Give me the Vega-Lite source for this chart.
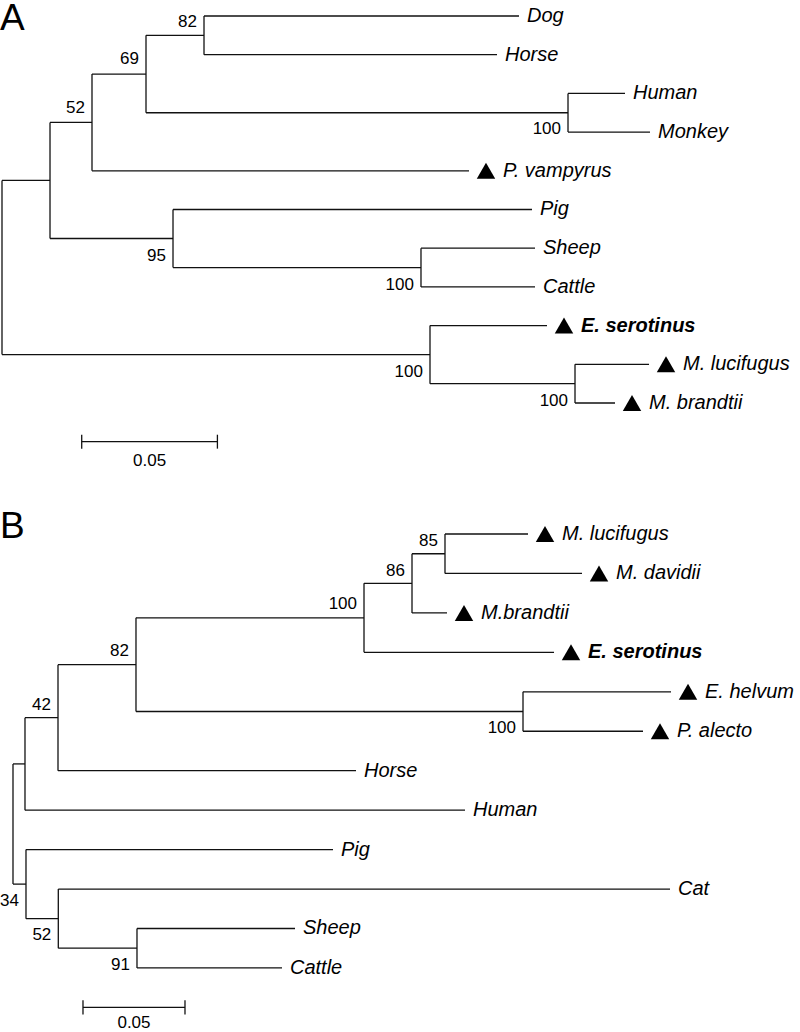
{
  "$schema": "https://vega.github.io/schema/vega-lite/v6.json",
  "padding": 0,
  "spacing": 0,
  "bounds": "flush",
  "background": "white",
  "config": {"view": {"stroke": null}, "text": {"font": "Liberation Sans", "color": "#000"}, "concat": {"spacing": 0}},
  "datasets": {
    "segA": [
      {"x": 0, "x2": 0, "y": 5.25, "y2": 9.75},
      {"x": 0, "x2": 0.01769, "y": 5.25, "y2": 5.25},
      {"x": 0, "x2": 0.1577, "y": 9.75, "y2": 9.75},
      {"x": 0.01769, "x2": 0.01769, "y": 3.75, "y2": 6.75},
      {"x": 0.01769, "x2": 0.03316, "y": 3.75, "y2": 3.75},
      {"x": 0.01769, "x2": 0.06301, "y": 6.75, "y2": 6.75},
      {"x": 0.03316, "x2": 0.03316, "y": 2.5, "y2": 5},
      {"x": 0.03316, "x2": 0.05306, "y": 2.5, "y2": 2.5},
      {"x": 0.03316, "x2": 0.17207, "y": 5, "y2": 5},
      {"x": 0.05306, "x2": 0.05306, "y": 1.5, "y2": 3.5},
      {"x": 0.05306, "x2": 0.07443, "y": 1.5, "y2": 1.5},
      {"x": 0.05306, "x2": 0.20855, "y": 3.5, "y2": 3.5},
      {"x": 0.07443, "x2": 0.07443, "y": 1, "y2": 2},
      {"x": 0.07443, "x2": 0.19049, "y": 1, "y2": 1},
      {"x": 0.07443, "x2": 0.18239, "y": 2, "y2": 2},
      {"x": 0.20855, "x2": 0.20855, "y": 3, "y2": 4},
      {"x": 0.20855, "x2": 0.22955, "y": 3, "y2": 3},
      {"x": 0.20855, "x2": 0.23876, "y": 4, "y2": 4},
      {"x": 0.06301, "x2": 0.06301, "y": 6, "y2": 7.5},
      {"x": 0.06301, "x2": 0.19528, "y": 6, "y2": 6},
      {"x": 0.06301, "x2": 0.15438, "y": 7.5, "y2": 7.5},
      {"x": 0.15438, "x2": 0.15438, "y": 7, "y2": 8},
      {"x": 0.15438, "x2": 0.19639, "y": 7, "y2": 7},
      {"x": 0.15438, "x2": 0.19639, "y": 8, "y2": 8},
      {"x": 0.1577, "x2": 0.1577, "y": 9, "y2": 10.5},
      {"x": 0.1577, "x2": 0.20081, "y": 9, "y2": 9},
      {"x": 0.1577, "x2": 0.21113, "y": 10.5, "y2": 10.5},
      {"x": 0.21113, "x2": 0.21113, "y": 10, "y2": 11},
      {"x": 0.21113, "x2": 0.2384, "y": 10, "y2": 10},
      {"x": 0.21113, "x2": 0.22587, "y": 11, "y2": 11},
      {"x": 0.02937, "x2": 0.07937, "y": 12, "y2": 12},
      {"x": 0.02937, "x2": 0.02937, "y": 11.82, "y2": 12.18},
      {"x": 0.07937, "x2": 0.07937, "y": 11.82, "y2": 12.18}
    ],
    "leafA": [
      {"name": "Dog", "x": 0.19049, "y": 1, "kind": "plain"},
      {"name": "Horse", "x": 0.18239, "y": 2, "kind": "plain"},
      {"name": "Human", "x": 0.22955, "y": 3, "kind": "plain"},
      {"name": "Monkey", "x": 0.23876, "y": 4, "kind": "plain"},
      {"name": "P. vampyrus", "x": 0.17207, "y": 5, "kind": "bat"},
      {"name": "Pig", "x": 0.19528, "y": 6, "kind": "plain"},
      {"name": "Sheep", "x": 0.19639, "y": 7, "kind": "plain"},
      {"name": "Cattle", "x": 0.19639, "y": 8, "kind": "plain"},
      {"name": "E. serotinus", "x": 0.20081, "y": 9, "kind": "batbold"},
      {"name": "M. lucifugus", "x": 0.2384, "y": 10, "kind": "bat"},
      {"name": "M. brandtii", "x": 0.22587, "y": 11, "kind": "bat"}
    ],
    "bootA": [
      {"label": "82", "x": 0.07443, "y": 1.155},
      {"label": "69", "x": 0.05306, "y": 2.124},
      {"label": "52", "x": 0.03316, "y": 3.377},
      {"label": "100", "x": 0.20855, "y": 3.92},
      {"label": "95", "x": 0.06301, "y": 7.19},
      {"label": "100", "x": 0.15438, "y": 7.94},
      {"label": "100", "x": 0.1577, "y": 10.21},
      {"label": "100", "x": 0.21113, "y": 10.95}
    ],
    "miscA": [
      {"label": "0.05", "x": 0.05437, "y": 12.5, "kind": "scale"},
      {"label": "A", "x": -0.000737, "y": 1.078, "kind": "letter"}
    ],
    "segB": [
      {"x": 0, "x2": 0, "y": 6.828, "y2": 9.875},
      {"x": 0, "x2": 0.00588, "y": 6.828, "y2": 6.828},
      {"x": 0, "x2": 0.00637, "y": 9.875, "y2": 9.875},
      {"x": 0.00588, "x2": 0.00588, "y": 5.656, "y2": 8},
      {"x": 0.00588, "x2": 0.02206, "y": 5.656, "y2": 5.656},
      {"x": 0.00588, "x2": 0.22157, "y": 8, "y2": 8},
      {"x": 0.02206, "x2": 0.02206, "y": 4.3125, "y2": 7},
      {"x": 0.02206, "x2": 0.06029, "y": 4.3125, "y2": 4.3125},
      {"x": 0.02206, "x2": 0.16814, "y": 7, "y2": 7},
      {"x": 0.06029, "x2": 0.06029, "y": 3.125, "y2": 5.5},
      {"x": 0.06029, "x2": 0.17206, "y": 3.125, "y2": 3.125},
      {"x": 0.06029, "x2": 0.25, "y": 5.5, "y2": 5.5},
      {"x": 0.17206, "x2": 0.17206, "y": 2.25, "y2": 4},
      {"x": 0.17206, "x2": 0.19559, "y": 2.25, "y2": 2.25},
      {"x": 0.17206, "x2": 0.2652, "y": 4, "y2": 4},
      {"x": 0.19559, "x2": 0.19559, "y": 1.5, "y2": 3},
      {"x": 0.19559, "x2": 0.21176, "y": 1.5, "y2": 1.5},
      {"x": 0.19559, "x2": 0.21275, "y": 3, "y2": 3},
      {"x": 0.21176, "x2": 0.21176, "y": 1, "y2": 2},
      {"x": 0.21176, "x2": 0.25245, "y": 1, "y2": 1},
      {"x": 0.21176, "x2": 0.27892, "y": 2, "y2": 2},
      {"x": 0.25, "x2": 0.25, "y": 5, "y2": 6},
      {"x": 0.25, "x2": 0.32255, "y": 5, "y2": 5},
      {"x": 0.25, "x2": 0.30882, "y": 6, "y2": 6},
      {"x": 0.00637, "x2": 0.00637, "y": 9, "y2": 10.75},
      {"x": 0.00637, "x2": 0.15686, "y": 9, "y2": 9},
      {"x": 0.00637, "x2": 0.02221, "y": 10.75, "y2": 10.75},
      {"x": 0.02221, "x2": 0.02221, "y": 10, "y2": 11.5},
      {"x": 0.02221, "x2": 0.32206, "y": 10, "y2": 10},
      {"x": 0.02221, "x2": 0.06078, "y": 11.5, "y2": 11.5},
      {"x": 0.06078, "x2": 0.06078, "y": 11, "y2": 12},
      {"x": 0.06078, "x2": 0.13824, "y": 11, "y2": 11},
      {"x": 0.06078, "x2": 0.13186, "y": 12, "y2": 12},
      {"x": 0.03431, "x2": 0.08431, "y": 13, "y2": 13},
      {"x": 0.03431, "x2": 0.03431, "y": 12.82, "y2": 13.18},
      {"x": 0.08431, "x2": 0.08431, "y": 12.82, "y2": 13.18}
    ],
    "leafB": [
      {"name": "M. lucifugus", "x": 0.25245, "y": 1, "kind": "bat"},
      {"name": "M. davidii", "x": 0.27892, "y": 2, "kind": "bat"},
      {"name": "M.brandtii", "x": 0.21275, "y": 3, "kind": "bat"},
      {"name": "E. serotinus", "x": 0.2652, "y": 4, "kind": "batbold"},
      {"name": "E. helvum", "x": 0.32255, "y": 5, "kind": "bat"},
      {"name": "P. alecto", "x": 0.30882, "y": 6, "kind": "bat"},
      {"name": "Horse", "x": 0.16814, "y": 7, "kind": "plain"},
      {"name": "Human", "x": 0.22157, "y": 8, "kind": "plain"},
      {"name": "Pig", "x": 0.15686, "y": 9, "kind": "plain"},
      {"name": "Cat", "x": 0.32206, "y": 10, "kind": "plain"},
      {"name": "Sheep", "x": 0.13824, "y": 11, "kind": "plain"},
      {"name": "Cattle", "x": 0.13186, "y": 12, "kind": "plain"}
    ],
    "bootB": [
      {"label": "85", "x": 0.21176, "y": 1.177},
      {"label": "86", "x": 0.19559, "y": 1.938},
      {"label": "100", "x": 0.17206, "y": 2.774},
      {"label": "82", "x": 0.06029, "y": 3.966},
      {"label": "42", "x": 0.02206, "y": 5.322},
      {"label": "100", "x": 0.25, "y": 5.93},
      {"label": "34", "x": 0.00637, "y": 10.303},
      {"label": "52", "x": 0.02221, "y": 11.165},
      {"label": "91", "x": 0.06078, "y": 11.925}
    ],
    "miscB": [
      {"label": "0.05", "x": 0.05931, "y": 13.4, "kind": "scale"},
      {"label": "B", "x": -0.00637, "y": 0.835, "kind": "letter"}
    ]
  },
  "vconcat": [
    {
      "width": 800,
      "height": 480,
      "encoding": {
        "x": {"field": "x", "type": "quantitative", "scale": {"domain": [-0.000737, 0.29403], "nice": false, "zero": false}, "axis": null},
        "y": {"field": "y", "type": "quantitative", "scale": {"domain": [0.6124, 13.016], "reverse": true, "nice": false, "zero": false}, "axis": null}
      },
      "layer": [
        {"data": {"name": "segA"}, "mark": {"type": "rule", "color": "#111", "strokeWidth": 1.3}, "encoding": {"x2": {"field": "x2"}, "y2": {"field": "y2"}}},
        {"data": {"name": "leafA"}, "transform": [{"filter": "datum.kind != 'plain'"}], "mark": {"type": "point", "shape": "triangle-up", "filled": true, "color": "#000", "opacity": 1, "size": 340, "xOffset": 17}},
        {"data": {"name": "leafA"}, "transform": [{"filter": "datum.kind == 'plain'"}], "mark": {"type": "text", "align": "left", "baseline": "middle", "dx": 8, "fontSize": 20, "fontStyle": "italic"}, "encoding": {"text": {"field": "name"}}},
        {"data": {"name": "leafA"}, "transform": [{"filter": "datum.kind == 'bat'"}], "mark": {"type": "text", "align": "left", "baseline": "middle", "dx": 34, "fontSize": 20, "fontStyle": "italic"}, "encoding": {"text": {"field": "name"}}},
        {"data": {"name": "leafA"}, "transform": [{"filter": "datum.kind == 'batbold'"}], "mark": {"type": "text", "align": "left", "baseline": "middle", "dx": 34, "fontSize": 20, "fontStyle": "italic", "fontWeight": "bold"}, "encoding": {"text": {"field": "name"}}},
        {"data": {"name": "bootA"}, "mark": {"type": "text", "align": "right", "baseline": "middle", "dx": -7, "fontSize": 17}, "encoding": {"text": {"field": "label"}}},
        {"data": {"name": "miscA"}, "transform": [{"filter": "datum.kind == 'scale'"}], "mark": {"type": "text", "align": "center", "baseline": "middle", "fontSize": 17}, "encoding": {"text": {"field": "label"}}},
        {"data": {"name": "miscA"}, "transform": [{"filter": "datum.kind == 'letter'"}], "mark": {"type": "text", "align": "left", "baseline": "middle", "fontSize": 37}, "encoding": {"text": {"field": "label"}}}
      ]
    },
    {
      "width": 800,
      "height": 552,
      "encoding": {
        "x": {"field": "x", "type": "quantitative", "scale": {"domain": [-0.00637, 0.38578], "nice": false, "zero": false}, "axis": null},
        "y": {"field": "y", "type": "quantitative", "scale": {"domain": [-0.3435, 13.649], "reverse": true, "nice": false, "zero": false}, "axis": null}
      },
      "layer": [
        {"data": {"name": "segB"}, "mark": {"type": "rule", "color": "#111", "strokeWidth": 1.3}, "encoding": {"x2": {"field": "x2"}, "y2": {"field": "y2"}}},
        {"data": {"name": "leafB"}, "transform": [{"filter": "datum.kind != 'plain'"}], "mark": {"type": "point", "shape": "triangle-up", "filled": true, "color": "#000", "opacity": 1, "size": 340, "xOffset": 17}},
        {"data": {"name": "leafB"}, "transform": [{"filter": "datum.kind == 'plain'"}], "mark": {"type": "text", "align": "left", "baseline": "middle", "dx": 8, "fontSize": 20, "fontStyle": "italic"}, "encoding": {"text": {"field": "name"}}},
        {"data": {"name": "leafB"}, "transform": [{"filter": "datum.kind == 'bat'"}], "mark": {"type": "text", "align": "left", "baseline": "middle", "dx": 34, "fontSize": 20, "fontStyle": "italic"}, "encoding": {"text": {"field": "name"}}},
        {"data": {"name": "leafB"}, "transform": [{"filter": "datum.kind == 'batbold'"}], "mark": {"type": "text", "align": "left", "baseline": "middle", "dx": 34, "fontSize": 20, "fontStyle": "italic", "fontWeight": "bold"}, "encoding": {"text": {"field": "name"}}},
        {"data": {"name": "bootB"}, "mark": {"type": "text", "align": "right", "baseline": "middle", "dx": -7, "fontSize": 17}, "encoding": {"text": {"field": "label"}}},
        {"data": {"name": "miscB"}, "transform": [{"filter": "datum.kind == 'scale'"}], "mark": {"type": "text", "align": "center", "baseline": "middle", "fontSize": 17}, "encoding": {"text": {"field": "label"}}},
        {"data": {"name": "miscB"}, "transform": [{"filter": "datum.kind == 'letter'"}], "mark": {"type": "text", "align": "left", "baseline": "middle", "fontSize": 37}, "encoding": {"text": {"field": "label"}}}
      ]
    }
  ]
}
